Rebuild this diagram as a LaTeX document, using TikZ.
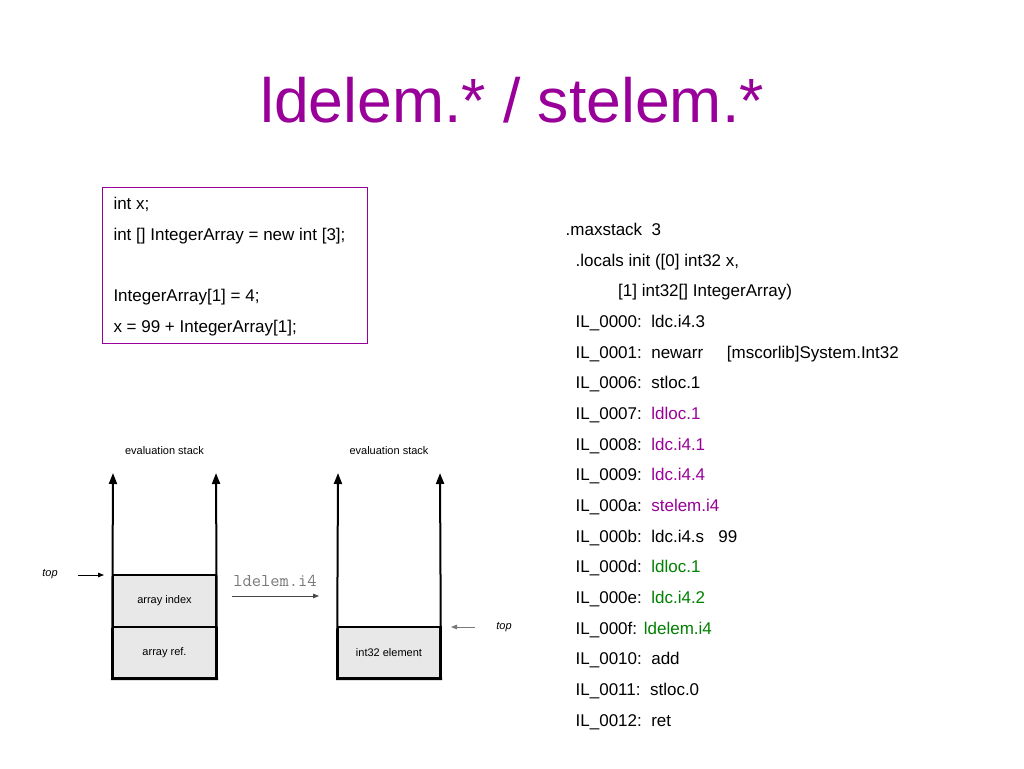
\documentclass[tikz,border=0pt]{standalone}
\usepackage{fontspec}
\setmainfont{Liberation Sans}
\usetikzlibrary{arrows.meta}
\definecolor{ttlpurple}{RGB}{153,0,153}
\definecolor{ilgreen}{RGB}{0,128,0}
\definecolor{cellgray}{RGB}{232,232,232}
\definecolor{opgray}{RGB}{120,120,120}
\tikzset{
  codeline/.style={anchor=base west, inner sep=0pt, font=\fontsize{17}{20}\selectfont},
  small/.style={inner sep=0pt, font=\fontsize{11}{13}\selectfont},
  cell/.style={draw, line width=2pt, fill=cellgray, minimum width=103pt, inner sep=0pt, font=\fontsize{11}{13}\selectfont},
  stackline/.style={line width=2pt, line join=miter, {Triangle[length=11pt,width=8pt]}-{Triangle[length=11pt,width=8pt]}},
  toparrow/.style={line width=0.8pt, -{Triangle[length=6pt,width=4.5pt]}},
}
\begin{document}
\begin{tikzpicture}[x=1pt,y=-1pt]
\useasboundingbox[fill=white] (0,0) rectangle (1024,768);
% title
\node (title) [anchor=base, inner sep=0pt, text=ttlpurple, font=\fontsize{62.5}{70}\selectfont] at (512,122) {ldelem.* / stelem.*};
% C# code box
\node (codebox) [draw=ttlpurple, line width=0.8pt, anchor=north west, minimum width=264.5pt, minimum height=156pt, inner sep=0pt] at (102.3,186.7) {};
\node (c1) [codeline] at (113.3,209.3) {int x;};
\node (c2) [codeline] at (113.3,240) {int [] IntegerArray = new int [3];};
\node (c3) [codeline] at (113.3,301.5) {IntegerArray[1] = 4;};
\node (c4) [codeline] at (113.3,332) {x = 99 + IntegerArray[1];};
% IL code
\node (i0) [codeline] at (565.5,235.5) {.maxstack\ \ 3};
\node (i1) [codeline] at (575.5,266.2) {.locals init ([0] int32 x,};
\node (i2) [codeline] at (618,296.8) {[1] int32[] IntegerArray)};
\node (i3) [codeline] at (575.5,327.5) {IL\_0000:\ \ ldc.i4.3};
\node (i4) [codeline] at (575.5,358.1) {IL\_0001:\ \ newarr\ \ \ \ \ [mscorlib]System.Int32};
\node (i5) [codeline] at (575.5,388.8) {IL\_0006:\ \ stloc.1};
\node (i6) [codeline] at (575.5,419.5) {IL\_0007:\ \ \textcolor{ttlpurple}{ldloc.1}};
\node (i7) [codeline] at (575.5,450.1) {IL\_0008:\ \ \textcolor{ttlpurple}{ldc.i4.1}};
\node (i8) [codeline] at (575.5,480.8) {IL\_0009:\ \ \textcolor{ttlpurple}{ldc.i4.4}};
\node (i9) [codeline] at (575.5,511.4) {IL\_000a:\ \ \textcolor{ttlpurple}{stelem.i4}};
\node (i10) [codeline] at (575.5,542.1) {IL\_000b:\ \ ldc.i4.s\ \ \ 99};
\node (i11) [codeline] at (575.5,572.8) {IL\_000d:\ \ \textcolor{ilgreen}{ldloc.1}};
\node (i12) [codeline] at (575.5,603.4) {IL\_000e:\ \ \textcolor{ilgreen}{ldc.i4.2}};
\node (i13) [codeline] at (575.5,634.1) {IL\_000f:\ \kern2pt\textcolor{ilgreen}{ldelem.i4}};
\node (i14) [codeline] at (575.5,664.7) {IL\_0010:\ \ add};
\node (i15) [codeline] at (575.5,695.4) {IL\_0011:\ \ stloc.0};
\node (i16) [codeline] at (575.5,726) {IL\_0012:\ \ ret};
% left stack
\node (lst) [small] at (164.5,451) {evaluation stack};
\node (idx) [cell, minimum height=52pt] at (164.5,601) {array index};
\node (ref) [cell, minimum height=51pt] at (164.5,652.5) {array ref.};
\coordinate (lta) at (113,473);
\coordinate (ltb) at (216,473);
\draw[stackline] (lta) -- (ref.south west) -- (ref.south east) -- (ltb);
\node (ltop) [small, font=\fontsize{11}{13}\selectfont\itshape] at (50,574) {top};
\coordinate (ltopa) at (78,575);
\coordinate (ltopb) at (104,575);
\draw[toparrow] (ltopa) -- (ltopb);
% operation
\node (op) [inner sep=0pt, text=opgray, font=\fontsize{18}{20}\ttfamily] at (275,581) {ldelem.i4};
\coordinate (opa) at (232,596);
\coordinate (opb) at (319,596);
\draw[toparrow, draw=opgray!60!black] (opa) -- (opb);
% right stack
\node (rst) [small] at (389,451) {evaluation stack};
\node (elem) [cell, minimum height=51pt, minimum width=102pt] at (389,652.5) {int32 element};
\coordinate (rta) at (338,473);
\coordinate (rtb) at (440,473);
\draw[stackline] (rta) -- (elem.south west) -- (elem.south east) -- (rtb);
\node (rtop) [small, font=\fontsize{11}{13}\selectfont\itshape] at (504,627) {top};
\coordinate (rtopa) at (475,627);
\coordinate (rtopb) at (451,627);
\draw[toparrow, draw=opgray] (rtopa) -- (rtopb);
\end{tikzpicture}
\end{document}
